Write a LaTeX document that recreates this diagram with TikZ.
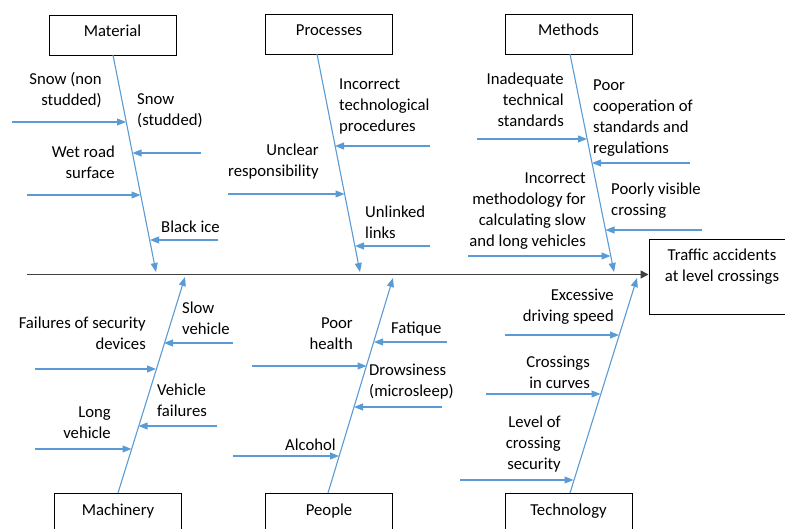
\documentclass[tikz,border=0pt]{standalone}
\usepackage{fontspec}
\setmainfont{Carlito}
\usetikzlibrary{arrows.meta}
\definecolor{bonecol}{HTML}{5B9BD5}
\definecolor{spinecol}{HTML}{404040}
\newcommand\labfont{\fontsize{16.7}{21}\selectfont}
% one cause: name, tail x, y, tip x (the tip sits on the bone)
\newcommand\causearrow[4]{%
  \coordinate (#1-t) at (#2,#3);
  \coordinate (#1-h) at (#4,#3);
  \draw[subarrow] (#1-t) -- (#1-h);}
\begin{document}
\begin{tikzpicture}[x=1pt,y=-1pt,
  catbox/.style={draw=black, line width=0.9pt, minimum width=127pt,
    minimum height=40pt, inner sep=0pt, text height=7pt, text depth=3pt,
    font=\labfont},
  effbox/.style={draw=black, line width=0.9pt, minimum width=146pt,
    minimum height=75pt, inner sep=0pt},
  lab/.style={font=\labfont, inner sep=0pt, yshift=11.7pt,
    execute at begin node=\strut},
  labL/.style={lab, anchor=north west, align=left},
  labR/.style={lab, anchor=north east, align=right},
  labC/.style={lab, anchor=north, align=center},
  bone/.style={draw=bonecol, line width=1.1pt,
    -{Triangle[length=9pt,width=7pt]}},
  subarrow/.style={bone},
  spine/.style={draw=spinecol, line width=1.6pt,
    -{Triangle[length=8pt,width=8pt]}, color=black, draw=spinecol},
]
\useasboundingbox (0,0) rectangle (785,529);

% effect and spine
\node[effbox] (effect) at (722,276.5) {};
\node[labC] (efftext) at (722,260) {Traffic accidents\\at level crossings};
\coordinate (spineS) at (27,274.5);
\draw[spine] (spineS) -- (spineS -| effect.west);

% category boxes
\node[catbox] (matbox)  at (112.5,35) {Material};
\node[catbox] (probox)  at (329,34)   {Processes};
\node[catbox] (metbox)  at (568.5,34) {Methods};
\node[catbox] (macbox)  at (118,513)  {Machinery};
\node[catbox] (peobox)  at (329,513)  {People};
\node[catbox] (tecbox)  at (568.5,513){Technology};

% main bones
\coordinate (matS) at (113,55);  \coordinate (matE) at (156,272);
\coordinate (proS) at (317,54);  \coordinate (proE) at (360,272);
\coordinate (metS) at (570,54);  \coordinate (metE) at (614,272);
\coordinate (macS) at (118,493); \coordinate (macE) at (185,277);
\coordinate (peoS) at (328,493); \coordinate (peoE) at (393,278);
\coordinate (tecS) at (570,493); \coordinate (tecE) at (637,278);
\foreach \b in {mat,pro,met,mac,peo,tec}{\draw[bone] (\b S) -- (\b E);}

% Material
\causearrow{snA}{12}{122}{126}
\causearrow{snB}{201}{153}{132.5}
\causearrow{wet}{27}{195}{140.5}
\causearrow{ice}{218}{240}{150}
\node[labR] (tsnA) at (102,84) {Snow (non\\studded)};
\node[labL] (tsnB) at (137,105) {Snow\\(studded)};
\node[labR] (twet) at (115,157) {Wet road\\surface};
\node[labL] (tice) at (161,229) {Black ice};

% Processes
\causearrow{inc}{430}{146}{335}
\causearrow{unc}{228}{194}{344.5}
\causearrow{unl}{430}{246}{355}
\node[labL] (tinc) at (339,90) {Incorrect\\technological\\procedures};
\node[labR] (tunc) at (319,155) {Unclear\\responsibility};
\node[labL] (tunl) at (365,217) {Unlinked\\links};

% Methods
\causearrow{inad}{477}{139}{587}
\causearrow{poor}{690}{163}{592}
\causearrow{meth}{468}{256}{610.5}
\causearrow{vis}{702}{230}{605.5}
\node[labR] (tinad) at (564,84) {Inadequate\\technical\\standards};
\node[labL] (tpoor) at (593,91) {Poor\\cooperation of\\standards and\\regulations};
\node[labR] (tmeth) at (586,184) {Incorrect\\methodology for\\calculating slow\\and long vehicles};
\node[labL] (tvis) at (611,194) {Poorly visible\\crossing};

% Machinery
\causearrow{slow}{233}{343}{164}
\causearrow{fail}{35}{369}{156}
\causearrow{vfail}{217}{426}{138.5}
\causearrow{long}{35}{449}{131.5}
\node[labL] (tslow) at (182,313) {Slow\\vehicle};
\node[labR] (tfail) at (146,328) {Failures of security\\devices};
\node[labL] (tvfail) at (157,395) {Vehicle\\failures};
\node[labR] (tlong) at (111,418) {Long\\vehicle};

% People
\causearrow{fat}{447}{342}{374}
\causearrow{hea}{252}{366}{366.5}
\causearrow{drow}{442}{407}{354}
\causearrow{alc}{233}{456}{339}
\node[labL] (tfat) at (391,330) {Fatique};
\node[labR] (thea) at (353,329) {Poor\\health};
\node[labL] (tdrow) at (369,376) {Drowsiness\\(microsleep)};
\node[labR] (talc) at (336,447) {Alcohol};

% Technology
\causearrow{speed}{505}{335}{619}
\causearrow{curve}{486}{394}{600.5}
\causearrow{level}{460}{480}{573.5}
\node[labR] (tspeed) at (614,301) {Excessive\\driving speed};
\node[labR] (tcurve) at (590,368) {Crossings\\in curves};
\node[labR] (tlevel) at (561,427) {Level of\\crossing\\security};
\end{tikzpicture}
\end{document}
